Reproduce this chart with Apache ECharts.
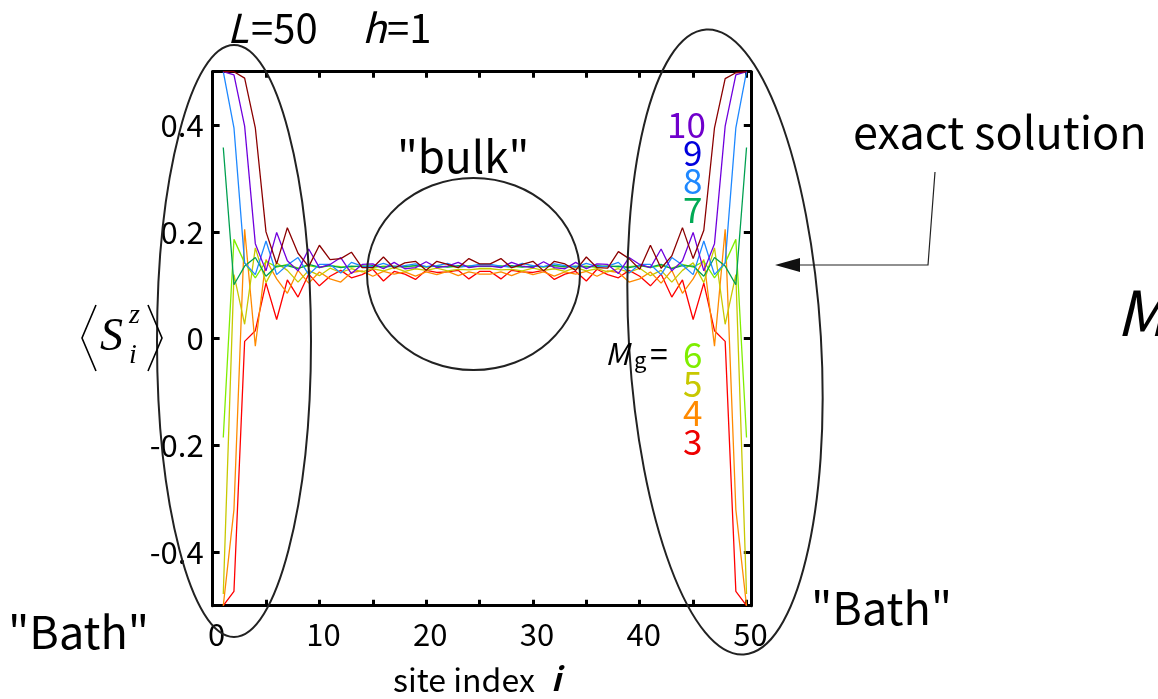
<!DOCTYPE html>
<html><head><meta charset="utf-8">
<script src="https://cdn.jsdelivr.net/npm/echarts@6/dist/echarts.min.js"></script>
<style>html,body{margin:0;padding:0;background:#fff}#c{width:1158px;height:699px}</style>
</head><body><div id="c"></div>
<script>
const siteIndex = [1,2,3,4,5,6,7,8,9,10,11,12,13,14,15,16,17,18,19,20,21,22,23,24,25,26,27,28,29,30,31,32,33,34,35,36,37,38,39,40,41,42,43,44,45,46,47,48,49,50];
const mg3 = [-0.500,-0.473,-0.005,0.015,0.104,0.036,0.110,0.078,0.121,0.099,0.117,0.128,
  0.114,0.120,0.130,0.108,0.126,0.121,0.111,0.128,0.124,0.125,0.128,0.112,0.126,
  0.126,0.112,0.128,0.125,0.124,0.128,0.111,0.121,0.126,0.108,0.130,0.120,0.114,
  0.128,0.117,0.099,0.121,0.078,0.110,0.036,0.104,0.015,-0.005,-0.473,-0.500];
const mg4 = [-0.500,-0.320,0.205,-0.014,0.148,0.112,0.085,0.128,0.104,0.125,0.112,0.106,
  0.124,0.127,0.117,0.126,0.121,0.125,0.117,0.125,0.120,0.126,0.118,0.125,0.121,
  0.121,0.125,0.118,0.126,0.120,0.125,0.117,0.125,0.121,0.126,0.117,0.127,0.124,
  0.106,0.112,0.125,0.104,0.128,0.085,0.112,0.148,-0.014,0.205,-0.320,-0.500];
const mg5 = [-0.478,0.120,0.027,0.170,0.105,0.142,0.128,0.106,0.128,0.118,0.132,0.124,
  0.131,0.125,0.131,0.127,0.133,0.126,0.131,0.128,0.132,0.127,0.130,0.129,0.131,
  0.131,0.129,0.130,0.127,0.132,0.128,0.131,0.126,0.133,0.127,0.131,0.125,0.131,
  0.124,0.132,0.118,0.128,0.106,0.128,0.142,0.105,0.170,0.027,0.120,-0.478];
const mg6 = [-0.185,0.186,0.142,0.114,0.145,0.134,0.139,0.132,0.137,0.133,0.137,0.135,
  0.134,0.137,0.133,0.136,0.135,0.134,0.137,0.134,0.136,0.135,0.134,0.137,0.135,
  0.135,0.137,0.134,0.135,0.136,0.134,0.137,0.134,0.135,0.136,0.133,0.137,0.134,
  0.135,0.137,0.133,0.137,0.132,0.139,0.134,0.145,0.114,0.142,0.186,-0.185];
const mg7 = [0.358,0.101,0.136,0.152,0.117,0.136,0.137,0.131,0.139,0.134,0.137,0.133,
  0.136,0.135,0.137,0.134,0.136,0.135,0.137,0.135,0.136,0.134,0.137,0.135,0.136,
  0.136,0.135,0.137,0.134,0.136,0.135,0.137,0.135,0.136,0.134,0.137,0.135,0.136,
  0.133,0.137,0.134,0.139,0.131,0.137,0.136,0.117,0.152,0.136,0.101,0.358];
const mg8 = [0.500,0.395,0.142,0.120,0.183,0.120,0.138,0.152,0.120,0.139,0.139,0.123,
  0.143,0.136,0.135,0.141,0.134,0.137,0.140,0.135,0.137,0.141,0.134,0.136,0.139,
  0.139,0.136,0.134,0.141,0.137,0.135,0.140,0.137,0.134,0.141,0.135,0.136,0.143,
  0.123,0.139,0.139,0.120,0.152,0.138,0.120,0.183,0.120,0.142,0.395,0.500];
const mg9 = [0.500,0.494,0.398,0.178,0.127,0.199,0.146,0.127,0.168,0.133,0.139,0.152,
  0.122,0.139,0.140,0.131,0.143,0.131,0.133,0.144,0.133,0.136,0.143,0.133,0.136,
  0.136,0.133,0.143,0.136,0.133,0.144,0.133,0.131,0.143,0.131,0.140,0.139,0.122,
  0.152,0.139,0.133,0.168,0.127,0.146,0.199,0.127,0.178,0.398,0.494,0.500];
const mg10 = [0.500,0.500,0.488,0.395,0.200,0.140,0.208,0.160,0.135,0.175,0.148,0.150,
  0.162,0.133,0.133,0.153,0.132,0.142,0.145,0.128,0.145,0.139,0.133,0.150,0.140,
  0.140,0.150,0.133,0.139,0.145,0.127,0.145,0.140,0.128,0.153,0.133,0.132,0.163,
  0.150,0.130,0.175,0.132,0.155,0.208,0.150,0.203,0.395,0.487,0.498,0.500];
const xTickLabels = [0,10,20,30,40,50];
const xTickMarks = [0,5,10,15,20,25,30,35,40,45,50];
const yTickLabels = [-0.4,-0.2,0,0.2,0.4];

const seriesDefs = [
  {name:'3', data:mg3, color:'#ff0000'},
  {name:'4', data:mg4, color:'#ff8a00'},
  {name:'5', data:mg5, color:'#c8c800'},
  {name:'6', data:mg6, color:'#7fee00'},
  {name:'7', data:mg7, color:'#00a050'},
  {name:'8', data:mg8, color:'#1e88ff'},
  {name:'9', data:mg9, color:'#7000dd'},
  {name:'10', data:mg10, color:'#8b0000'}
];

const FONT = '"Noto Sans CJK JP","Noto Sans",sans-serif';
const axisLineStyle = {color:'#000', width:3};
function xAxisDef(pos, labels){
  return {type:'value', position:pos, min:0, max:50.4,
    axisLine:{show:true, onZero:false, lineStyle:axisLineStyle},
    axisTick:{show:true, inside:true, length:6, lineStyle:{color:'#000', width:3}, customValues:xTickMarks},
    axisLabel:{show:labels, customValues:xTickLabels, fontSize:31, color:'#000', fontFamily:FONT, margin:13, padding:[0,0,0,8]},
    splitLine:{show:false}};
}
function yAxisDef(pos, labels){
  return {type:'value', position:pos, min:-0.5, max:0.5,
    axisLine:{show:true, onZero:false, lineStyle:axisLineStyle},
    axisTick:{show:true, inside:true, length:7, lineStyle:{color:'#000', width:3}, customValues:yTickLabels},
    axisLabel:{show:labels, customValues:yTickLabels, fontSize:31, color:'#000', fontFamily:FONT, margin:9,
      formatter: v => (Math.abs(v) < 1e-9 ? '0' : String(Math.round(v*10)/10))},
    splitLine:{show:false}};
}

function txt(text, x, y, size, color, extra){
  return Object.assign({type:'text', x:x, y:y, z:100,
    style:Object.assign({text:text, fontSize:size, fontFamily:FONT, fill:color||'#000', align:'left', verticalAlign:'middle'}, extra||{})});
}
function line(points, w){
  return {type:'polyline', z:100, shape:{points:points}, style:{stroke:'#000', lineWidth:w, fill:null, lineJoin:'miter'}};
}

const graphics = [
  // annotations
  txt('L', 227, 28, 40, '#000', {fontStyle:'italic'}),
  txt('=50', 251, 28, 40),
  txt('h', 362, 28, 40, '#000', {fontStyle:'italic'}),
  txt('=1', 387, 28, 40),
  txt('"bulk"', 397, 156, 44),
  txt('exact solution', 853, 132, 45),
  txt('"Bath"', 8, 632, 45),
  txt('"Bath"', 811, 608, 45),
  txt('M', 1116, 312, 62, '#000', {fontStyle:'italic'}),
  // legend numbers
  txt('10', 667, 125, 35, '#7000cc'),
  txt('9', 683, 153, 35, '#0000dd'),
  txt('8', 683, 181, 35, '#1e88ff'),
  txt('7', 683, 210, 35, '#00aa55'),
  txt('M', 605, 354, 30, '#000', {fontStyle:'italic'}),
  txt('g', 634, 360, 22, '#000'),
  txt('=', 650, 354, 32, '#000'),
  txt('6', 683, 355, 35, '#7fee00'),
  txt('5', 683, 384, 35, '#c8c800'),
  txt('4', 683, 413, 35, '#ff8a00'),
  txt('3', 683, 442, 35, '#ee0000'),
  // axis titles
  txt('site index', 393, 680, 32),
  txt('i', 551, 679, 32, '#000', {fontStyle:'italic', fontWeight:'bold'}),
  line([[96,305],[82,338],[96,371]], 1.6),
  txt('S', 100, 338, 46, '#000', {fontFamily:'"Liberation Serif",serif', fontStyle:'italic'}),
  txt('z', 129, 316, 28, '#000', {fontFamily:'"Liberation Serif",serif', fontStyle:'italic'}),
  txt('i', 129, 356, 28, '#000', {fontFamily:'"Liberation Serif",serif', fontStyle:'italic'}),
  line([[148,305],[162,338],[148,371]], 1.6),
  // ellipses
  {type:'ellipse', x:234, y:341, rotation:0.0, shape:{cx:0, cy:0, rx:77, ry:296}, z:90,
    style:{fill:'none', stroke:'#222', lineWidth:2}},
  {type:'ellipse', x:473.5, y:274, shape:{cx:0, cy:0, rx:106.5, ry:96}, z:90,
    style:{fill:'none', stroke:'#222', lineWidth:2}},
  {type:'ellipse', x:725, y:342, rotation:0.06, shape:{cx:0, cy:0, rx:96, ry:313}, z:90,
    style:{fill:'none', stroke:'#222', lineWidth:2}},
  // arrow
  {type:'polyline', z:90, shape:{points:[[935,172],[928,265],[790,265]]}, style:{stroke:'#222', lineWidth:1.2, fill:null}},
  {type:'polygon', z:90, shape:{points:[[775,265],[800,258],[800,272]]}, style:{fill:'#111'}}
];

const chart = echarts.init(document.getElementById('c'), null, {renderer:'canvas'});
chart.setOption({
  animation:false,
  backgroundColor:'#fff',
  grid:{left:212.6, top:71.7, right:407.2, bottom:93.3, outerBoundsMode:'none', containLabel:false},
  xAxis:[xAxisDef('bottom', true), xAxisDef('top', false)],
  yAxis:[yAxisDef('left', true), yAxisDef('right', false)],
  series: seriesDefs.map(s => ({
    type:'line', name:s.name, xAxisIndex:0, yAxisIndex:0, showSymbol:false, symbol:'none',
    lineStyle:{color:s.color, width:1.3}, itemStyle:{color:s.color},
    data: siteIndex.map((x,k) => [x, s.data[k]])
  })),
  graphic: graphics
});
</script>
</body></html>
